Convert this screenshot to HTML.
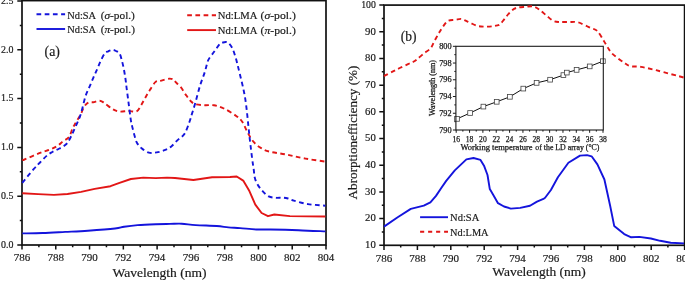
<!DOCTYPE html>
<html><head><meta charset="utf-8"><style>
html,body{margin:0;padding:0;background:#fff;width:685px;height:284px;overflow:hidden}
svg{display:block;will-change:transform}
text{font-family:"Liberation Serif",serif;fill:#1a1a1a;stroke:#1a1a1a;stroke-width:0.18px}
</style></head><body>
<svg width="685" height="284" viewBox="0 0 685 284">

<rect x="22.0" y="0.6" width="304.0" height="244.4" fill="none" stroke="#111" stroke-width="1.7"/>
<path d="M22.00,245.0 V249.6 M38.89,245.0 V247.2 M55.78,245.0 V249.6 M72.67,245.0 V247.2 M89.56,245.0 V249.6 M106.44,245.0 V247.2 M123.33,245.0 V249.6 M140.22,245.0 V247.2 M157.11,245.0 V249.6 M174.00,245.0 V247.2 M190.89,245.0 V249.6 M207.78,245.0 V247.2 M224.67,245.0 V249.6 M241.56,245.0 V247.2 M258.44,245.0 V249.6 M275.33,245.0 V247.2 M292.22,245.0 V249.6 M309.11,245.0 V247.2 M326.00,245.0 V249.6 M22.0,245.00 H17.3 M22.0,220.60 H19.8 M22.0,196.20 H17.3 M22.0,171.80 H19.8 M22.0,147.40 H17.3 M22.0,123.00 H19.8 M22.0,98.60 H17.3 M22.0,74.20 H19.8 M22.0,49.80 H17.3 M22.0,25.40 H19.8 M22.0,1.00 H17.3" stroke="#111" stroke-width="1.5" fill="none"/>
<text x="13.4" y="247.80" font-size="10" text-anchor="end" textLength="12.4" lengthAdjust="spacingAndGlyphs">0.0</text>
<text x="13.4" y="199.00" font-size="10" text-anchor="end" textLength="12.4" lengthAdjust="spacingAndGlyphs">0.5</text>
<text x="13.4" y="150.20" font-size="10" text-anchor="end" textLength="12.4" lengthAdjust="spacingAndGlyphs">1.0</text>
<text x="13.4" y="101.40" font-size="10" text-anchor="end" textLength="12.4" lengthAdjust="spacingAndGlyphs">1.5</text>
<text x="13.4" y="52.60" font-size="10" text-anchor="end" textLength="12.4" lengthAdjust="spacingAndGlyphs">2.0</text>
<text x="13.4" y="3.80" font-size="10" text-anchor="end" textLength="12.4" lengthAdjust="spacingAndGlyphs">2.5</text>
<text x="22.00" y="261.2" font-size="11" text-anchor="middle">786</text>
<text x="55.78" y="261.2" font-size="11" text-anchor="middle">788</text>
<text x="89.56" y="261.2" font-size="11" text-anchor="middle">790</text>
<text x="123.33" y="261.2" font-size="11" text-anchor="middle">792</text>
<text x="157.11" y="261.2" font-size="11" text-anchor="middle">794</text>
<text x="190.89" y="261.2" font-size="11" text-anchor="middle">796</text>
<text x="224.67" y="261.2" font-size="11" text-anchor="middle">798</text>
<text x="258.44" y="261.2" font-size="11" text-anchor="middle">800</text>
<text x="292.22" y="261.2" font-size="11" text-anchor="middle">802</text>
<text x="326.00" y="261.2" font-size="11" text-anchor="middle">804</text>
<text x="112.5" y="277.2" font-size="12.2" textLength="94" lengthAdjust="spacingAndGlyphs">Wavelength (nm)</text>
<text x="44.6" y="56.3" font-size="13.6" textLength="15.4" lengthAdjust="spacingAndGlyphs">(a)</text>
<path d="M36.5,14.3 H65.1" stroke="#1414dc" stroke-width="1.9" stroke-dasharray="4.7 3.5" fill="none"/>
<path d="M36.5,29.0 H65.1" stroke="#1414dc" stroke-width="1.9" fill="none"/>
<path d="M187.2,15.3 H216" stroke="#e21616" stroke-width="1.9" stroke-dasharray="4.7 3.5" fill="none"/>
<path d="M187.2,30.1 H216" stroke="#e21616" stroke-width="1.9" fill="none"/>
<text x="67.2" y="18.7" font-size="11" textLength="28.9" lengthAdjust="spacingAndGlyphs">Nd:SA</text><text x="100.7" y="18.7" font-size="11" textLength="34.2" lengthAdjust="spacingAndGlyphs">(<tspan font-style="italic">&#963;</tspan>-pol.)</text>
<text x="67.2" y="33.1" font-size="11" textLength="28.9" lengthAdjust="spacingAndGlyphs">Nd:SA</text><text x="100.7" y="33.1" font-size="11" textLength="34.2" lengthAdjust="spacingAndGlyphs">(<tspan font-style="italic">&#960;</tspan>-pol.)</text>
<text x="217.8" y="19.0" font-size="11" textLength="39.5" lengthAdjust="spacingAndGlyphs">Nd:LMA</text><text x="260.6" y="19.0" font-size="11" textLength="35.2" lengthAdjust="spacingAndGlyphs">(<tspan font-style="italic">&#963;</tspan>-pol.)</text>
<text x="217.8" y="33.6" font-size="11" textLength="39.5" lengthAdjust="spacingAndGlyphs">Nd:LMA</text><text x="260.6" y="33.6" font-size="11" textLength="35.2" lengthAdjust="spacingAndGlyphs">(<tspan font-style="italic">&#960;</tspan>-pol.)</text>
<path d="M22.30,193.20 L38.10,194.10 L53.90,194.90 L67.50,194.00 L81.10,191.90 L94.70,188.90 L110.50,186.20 L119.50,182.80 L130.90,179.00 L143.30,177.60 L155.70,178.10 L167.00,177.60 L175.00,178.00 L193.40,180.00 L212.10,177.20 L230.00,177.00 L236.70,176.50 L243.20,180.60 L249.40,191.10 L255.30,204.60 L261.60,213.00 L268.00,216.20 L274.30,214.50 L289.90,216.10 L325.40,216.50" stroke="#e21616" stroke-width="1.9" fill="none" stroke-linejoin="round"/>
<path d="M22.30,233.40 C25.68,233.33 35.45,233.25 42.60,233.00 C49.75,232.75 57.65,232.28 65.20,231.90 C72.75,231.52 79.60,231.27 87.90,230.70 C96.20,230.13 108.97,229.17 115.00,228.50 C121.03,227.83 120.33,227.27 124.10,226.70 C127.87,226.13 132.33,225.52 137.60,225.10 C142.87,224.68 150.30,224.40 155.70,224.20 C161.10,224.00 165.67,223.98 170.00,223.90 C174.33,223.82 177.42,223.50 181.70,223.70 C185.98,223.90 189.87,224.72 195.70,225.10 C201.53,225.48 211.25,225.62 216.70,226.00 C222.15,226.38 224.50,227.05 228.40,227.40 C232.30,227.75 235.43,227.75 240.10,228.10 C244.77,228.45 251.33,229.27 256.40,229.50 C261.47,229.73 263.48,229.38 270.50,229.50 C277.52,229.62 289.35,229.88 298.50,230.20 C307.65,230.52 320.92,231.20 325.40,231.40" stroke="#1414dc" stroke-width="1.9" fill="none" stroke-linejoin="round"/>
<path d="M22.30,160.00 C22.67,159.92 21.55,160.68 24.50,159.50 C27.45,158.32 35.65,154.60 40.00,152.90 C44.35,151.20 47.67,150.48 50.60,149.30 C53.53,148.12 55.55,147.12 57.60,145.80 C59.65,144.48 61.00,142.87 62.90,141.40 C64.80,139.93 67.38,139.20 69.00,137.00 C70.62,134.80 71.50,130.53 72.60,128.20 C73.70,125.87 74.27,125.27 75.60,123.00 C76.93,120.73 79.18,117.30 80.60,114.60 C82.02,111.90 82.82,108.80 84.10,106.80 C85.38,104.80 86.78,103.37 88.30,102.60 C89.82,101.83 91.32,102.50 93.20,102.20 C95.08,101.90 97.83,100.73 99.60,100.80 C101.37,100.87 101.68,101.25 103.80,102.60 C105.92,103.95 109.72,107.42 112.30,108.90 C114.88,110.38 116.60,111.15 119.30,111.50 C122.00,111.85 125.62,111.03 128.50,111.00 C131.38,110.97 134.47,112.32 136.60,111.30 C138.73,110.28 139.85,107.17 141.30,104.90 C142.75,102.63 143.85,100.22 145.30,97.70 C146.75,95.18 148.28,92.43 150.00,89.80 C151.72,87.17 153.87,83.40 155.60,81.90 C157.33,80.40 158.15,81.33 160.40,80.80 C162.65,80.27 166.87,78.87 169.10,78.70 C171.33,78.53 172.62,79.13 173.80,79.80 C174.98,80.47 175.00,81.43 176.20,82.70 C177.40,83.97 179.42,85.42 181.00,87.40 C182.58,89.38 184.12,92.35 185.70,94.60 C187.28,96.85 188.92,99.32 190.50,100.90 C192.08,102.48 192.83,103.38 195.20,104.10 C197.57,104.82 201.57,105.00 204.70,105.20 C207.83,105.40 210.80,104.75 214.00,105.30 C217.20,105.85 220.20,106.73 223.90,108.50 C227.60,110.27 233.12,113.65 236.20,115.90 C239.28,118.15 240.55,119.33 242.40,122.00 C244.25,124.67 245.47,128.62 247.30,131.90 C249.13,135.18 251.15,139.03 253.40,141.70 C255.65,144.37 258.12,146.25 260.80,147.90 C263.48,149.55 265.17,150.48 269.50,151.60 C273.83,152.72 280.80,153.43 286.80,154.60 C292.80,155.77 299.07,157.43 305.50,158.60 C311.93,159.77 322.08,161.10 325.40,161.60" stroke="#e21616" stroke-width="1.9" stroke-dasharray="4.6 3.4" fill="none"/>
<path d="M22.30,182.80 C24.18,180.53 30.65,172.58 33.60,169.20 C36.55,165.82 37.77,164.78 40.00,162.50 C42.23,160.22 44.95,157.25 47.00,155.50 C49.05,153.75 50.23,153.17 52.30,152.00 C54.37,150.83 57.05,149.83 59.40,148.50 C61.75,147.17 64.50,145.92 66.40,144.00 C68.30,142.08 69.33,139.78 70.80,137.00 C72.27,134.22 73.58,130.97 75.20,127.30 C76.82,123.63 78.78,120.17 80.50,115.00 C82.22,109.83 83.97,101.07 85.50,96.30 C87.03,91.53 88.37,89.57 89.70,86.40 C91.03,83.23 92.28,80.10 93.50,77.30 C94.72,74.50 95.82,72.30 97.00,69.60 C98.18,66.90 99.30,63.80 100.60,61.10 C101.90,58.40 103.52,55.03 104.80,53.40 C106.08,51.77 107.02,51.88 108.30,51.30 C109.58,50.72 111.22,49.95 112.50,49.90 C113.78,49.85 114.82,50.38 116.00,51.00 C117.18,51.62 118.60,51.93 119.60,53.60 C120.60,55.27 121.27,58.27 122.00,61.00 C122.73,63.73 123.42,67.00 124.00,70.00 C124.58,73.00 125.07,76.00 125.50,79.00 C125.93,82.00 126.10,84.12 126.60,88.00 C127.10,91.88 127.82,97.10 128.50,102.30 C129.18,107.50 130.10,115.23 130.70,119.20 C131.30,123.17 131.47,123.37 132.10,126.10 C132.73,128.83 133.70,132.83 134.50,135.60 C135.30,138.37 135.72,140.58 136.90,142.70 C138.08,144.82 139.62,146.63 141.60,148.30 C143.58,149.97 146.28,152.02 148.80,152.70 C151.32,153.38 154.07,152.82 156.70,152.40 C159.33,151.98 162.22,151.15 164.60,150.20 C166.98,149.25 168.88,148.33 171.00,146.70 C173.12,145.07 175.07,142.52 177.30,140.40 C179.53,138.28 182.38,137.07 184.40,134.00 C186.42,130.93 188.13,125.40 189.40,122.00 C190.67,118.60 191.03,116.72 192.00,113.60 C192.97,110.48 193.87,107.93 195.20,103.30 C196.53,98.67 198.42,90.95 200.00,85.80 C201.58,80.65 203.65,75.60 204.70,72.40 C205.75,69.20 205.67,68.73 206.30,66.60 C206.93,64.47 207.20,62.07 208.50,59.60 C209.80,57.13 212.23,54.38 214.10,51.80 C215.97,49.22 218.22,45.65 219.70,44.10 C221.18,42.55 221.93,42.85 223.00,42.50 C224.07,42.15 225.12,41.85 226.10,42.00 C227.08,42.15 227.85,42.35 228.90,43.40 C229.95,44.45 231.35,46.18 232.40,48.30 C233.45,50.42 234.38,53.52 235.20,56.10 C236.02,58.68 236.72,61.58 237.30,63.80 C237.88,66.02 237.65,65.03 238.70,69.40 C239.75,73.77 242.37,84.10 243.60,90.00 C244.83,95.90 245.28,98.63 246.10,104.80 C246.92,110.97 247.88,121.25 248.50,127.00 C249.12,132.75 249.18,133.97 249.80,139.30 C250.42,144.63 251.53,153.88 252.20,159.00 C252.87,164.12 253.40,167.00 253.80,170.00 C254.20,173.00 254.02,174.65 254.60,177.00 C255.18,179.35 255.97,181.75 257.30,184.10 C258.63,186.45 260.70,189.05 262.60,191.10 C264.50,193.15 266.50,195.28 268.70,196.40 C270.90,197.52 273.45,197.60 275.80,197.80 C278.15,198.00 280.75,197.48 282.80,197.60 C284.85,197.72 286.27,198.00 288.10,198.50 C289.93,199.00 290.50,199.67 293.80,200.60 C297.10,201.53 302.63,203.25 307.90,204.10 C313.17,204.95 322.48,205.43 325.40,205.70" stroke="#1414dc" stroke-width="1.9" stroke-dasharray="4.6 3.4" fill="none"/>
<rect x="384.0" y="5.09" width="300.60" height="240.21" fill="none" stroke="#111" stroke-width="1.7"/>
<path d="M384.00,245.3 V249.9 M400.70,245.3 V247.5 M417.40,245.3 V249.9 M434.10,245.3 V247.5 M450.80,245.3 V249.9 M467.50,245.3 V247.5 M484.20,245.3 V249.9 M500.90,245.3 V247.5 M517.60,245.3 V249.9 M534.30,245.3 V247.5 M551.00,245.3 V249.9 M567.70,245.3 V247.5 M584.40,245.3 V249.9 M601.10,245.3 V247.5 M617.80,245.3 V249.9 M634.50,245.3 V247.5 M651.20,245.3 V249.9 M667.90,245.3 V247.5 M684.60,245.3 V249.9 M384.0,245.30 H379.3 M384.0,231.96 H381.8 M384.0,218.61 H379.3 M384.0,205.27 H381.8 M384.0,191.92 H379.3 M384.0,178.58 H381.8 M384.0,165.23 H379.3 M384.0,151.88 H381.8 M384.0,138.54 H379.3 M384.0,125.20 H381.8 M384.0,111.85 H379.3 M384.0,98.50 H381.8 M384.0,85.16 H379.3 M384.0,71.81 H381.8 M384.0,58.47 H379.3 M384.0,45.12 H381.8 M384.0,31.78 H379.3 M384.0,18.44 H381.8 M384.0,5.09 H379.3" stroke="#111" stroke-width="1.5" fill="none"/>
<text x="375.8" y="248.10" font-size="10" text-anchor="end" textLength="10.7" lengthAdjust="spacingAndGlyphs">10</text>
<text x="375.8" y="221.41" font-size="10" text-anchor="end" textLength="10.7" lengthAdjust="spacingAndGlyphs">20</text>
<text x="375.8" y="194.72" font-size="10" text-anchor="end" textLength="10.7" lengthAdjust="spacingAndGlyphs">30</text>
<text x="375.8" y="168.03" font-size="10" text-anchor="end" textLength="10.7" lengthAdjust="spacingAndGlyphs">40</text>
<text x="375.8" y="141.34" font-size="10" text-anchor="end" textLength="10.7" lengthAdjust="spacingAndGlyphs">50</text>
<text x="375.8" y="114.65" font-size="10" text-anchor="end" textLength="10.7" lengthAdjust="spacingAndGlyphs">60</text>
<text x="375.8" y="87.96" font-size="10" text-anchor="end" textLength="10.7" lengthAdjust="spacingAndGlyphs">70</text>
<text x="375.8" y="61.27" font-size="10" text-anchor="end" textLength="10.7" lengthAdjust="spacingAndGlyphs">80</text>
<text x="375.8" y="34.58" font-size="10" text-anchor="end" textLength="10.7" lengthAdjust="spacingAndGlyphs">90</text>
<text x="375.8" y="7.89" font-size="10" text-anchor="end" textLength="14.6" lengthAdjust="spacingAndGlyphs">100</text>
<text x="384.00" y="261.8" font-size="11" text-anchor="middle">786</text>
<text x="417.40" y="261.8" font-size="11" text-anchor="middle">788</text>
<text x="450.80" y="261.8" font-size="11" text-anchor="middle">790</text>
<text x="484.20" y="261.8" font-size="11" text-anchor="middle">792</text>
<text x="517.60" y="261.8" font-size="11" text-anchor="middle">794</text>
<text x="551.00" y="261.8" font-size="11" text-anchor="middle">796</text>
<text x="584.40" y="261.8" font-size="11" text-anchor="middle">798</text>
<text x="617.80" y="261.8" font-size="11" text-anchor="middle">800</text>
<text x="651.20" y="261.8" font-size="11" text-anchor="middle">802</text>
<text x="684.60" y="261.8" font-size="11" text-anchor="middle">804</text>
<text x="492.3" y="276.3" font-size="12.2" textLength="93.5" lengthAdjust="spacingAndGlyphs">Wavelength (nm)</text>
<text x="400.8" y="41.2" font-size="13.6" textLength="15.8" lengthAdjust="spacingAndGlyphs">(b)</text>
<text transform="translate(357.3,199.4) rotate(-90)" x="0" y="0" font-size="12" textLength="133.8" lengthAdjust="spacingAndGlyphs">Abrorptionefficiency (%)</text>
<path d="M420.1,217.2 H448" stroke="#1414dc" stroke-width="1.9" fill="none"/>
<path d="M420.1,231.7 H448" stroke="#e21616" stroke-width="1.9" stroke-dasharray="4.1 3.9" fill="none"/>
<text x="450.1" y="221.3" font-size="10.8" textLength="29.2" lengthAdjust="spacingAndGlyphs">Nd:SA</text>
<text x="450.1" y="235.8" font-size="10.8" textLength="38.5" lengthAdjust="spacingAndGlyphs">Nd:LMA</text>
<path d="M384.00,226.60 L397.70,217.30 L410.80,208.90 L423.80,205.70 L430.40,202.40 L436.00,195.90 L441.60,187.50 L446.20,180.90 L454.80,170.40 L466.40,159.40 L473.50,158.00 L480.50,159.90 L484.00,165.70 L487.50,175.00 L489.80,189.10 L493.30,195.00 L498.00,203.20 L504.00,206.50 L510.80,208.60 L520.20,207.90 L530.00,205.80 L537.00,201.60 L544.00,198.60 L545.10,197.80 L550.90,190.00 L557.90,177.20 L568.40,162.80 L580.00,155.60 L587.00,155.10 L591.60,156.30 L597.40,164.40 L604.40,179.50 L610.20,206.00 L614.20,225.90 L624.20,234.10 L631.20,237.30 L639.30,236.90 L650.90,238.50 L660.20,240.80 L670.70,242.70 L684.00,243.40" stroke="#1414dc" stroke-width="1.9" fill="none" stroke-linejoin="round"/>
<path d="M384.00,76.20 C384.37,75.98 384.70,75.70 386.20,74.90 C387.70,74.10 390.75,72.55 393.00,71.40 C395.25,70.25 397.20,69.20 399.70,68.00 C402.20,66.80 405.78,65.20 408.00,64.20 C410.22,63.20 411.52,62.80 413.00,62.00 C414.48,61.20 415.15,60.77 416.90,59.40 C418.65,58.03 421.23,55.65 423.50,53.80 C425.77,51.95 428.72,50.35 430.50,48.30 C432.28,46.25 432.97,43.75 434.20,41.50 C435.43,39.25 436.85,36.63 437.90,34.80 C438.95,32.97 439.63,31.90 440.50,30.50 C441.37,29.10 441.85,28.02 443.10,26.40 C444.35,24.78 446.02,21.88 448.00,20.80 C449.98,19.72 452.85,20.22 455.00,19.90 C457.15,19.58 459.33,18.87 460.90,18.90 C462.47,18.93 462.85,19.45 464.40,20.10 C465.95,20.75 468.07,21.83 470.20,22.80 C472.33,23.77 474.85,25.27 477.20,25.90 C479.55,26.53 481.77,26.53 484.30,26.60 C486.83,26.67 490.07,26.55 492.40,26.30 C494.73,26.05 497.03,25.40 498.30,25.10 C499.57,24.80 498.93,25.57 500.00,24.50 C501.07,23.43 502.95,20.83 504.70,18.70 C506.45,16.57 508.55,13.50 510.50,11.70 C512.45,9.90 513.87,8.72 516.40,7.90 C518.93,7.08 522.88,7.05 525.70,6.80 C528.52,6.55 530.97,5.88 533.30,6.40 C535.63,6.92 537.47,8.33 539.70,9.90 C541.93,11.47 544.45,13.98 546.70,15.80 C548.95,17.62 551.05,19.77 553.20,20.80 C555.35,21.83 556.98,21.80 559.60,22.00 C562.22,22.20 565.78,21.93 568.90,22.00 C572.02,22.07 574.70,21.42 578.30,22.40 C581.90,23.38 587.35,26.48 590.50,27.90 C593.65,29.32 595.00,28.77 597.20,30.90 C599.40,33.03 601.98,38.02 603.70,40.70 C605.42,43.38 606.22,44.98 607.50,47.00 C608.78,49.02 609.67,50.93 611.40,52.80 C613.13,54.67 615.53,56.38 617.90,58.20 C620.27,60.02 623.42,62.35 625.60,63.70 C627.78,65.05 628.45,65.77 631.00,66.30 C633.55,66.83 636.72,66.25 640.90,66.90 C645.08,67.55 648.92,68.42 656.10,70.20 C663.28,71.98 679.35,76.37 684.00,77.60" stroke="#e21616" stroke-width="1.9" stroke-dasharray="4.6 3.4" fill="none"/>
<rect x="455.9" y="46.3" width="147.39999999999998" height="83.7" fill="#fff" stroke="none"/>
<path d="M456.20,130.0 V132.8 M462.87,130.0 V131.6 M469.55,130.0 V132.8 M476.22,130.0 V131.6 M482.89,130.0 V132.8 M489.56,130.0 V131.6 M496.24,130.0 V132.8 M502.91,130.0 V131.6 M509.58,130.0 V132.8 M516.25,130.0 V131.6 M522.93,130.0 V132.8 M529.60,130.0 V131.6 M536.27,130.0 V132.8 M542.95,130.0 V131.6 M549.62,130.0 V132.8 M556.29,130.0 V131.6 M562.96,130.0 V132.8 M569.64,130.0 V131.6 M576.31,130.0 V132.8 M582.98,130.0 V131.6 M589.65,130.0 V132.8 M596.33,130.0 V131.6 M603.00,130.0 V132.8 M455.9,130.00 H452.9 M455.9,121.63 H454.29999999999995 M455.9,113.26 H452.9 M455.9,104.89 H454.29999999999995 M455.9,96.52 H452.9 M455.9,88.15 H454.29999999999995 M455.9,79.78 H452.9 M455.9,71.41 H454.29999999999995 M455.9,63.04 H452.9 M455.9,54.67 H454.29999999999995 M455.9,46.30 H452.9" stroke="#1a1a1a" stroke-width="1" fill="none"/>
<text x="451.6" y="132.60" font-size="7.8" text-anchor="end" textLength="12.4" lengthAdjust="spacingAndGlyphs" style="stroke-width:0.25px">790</text>
<text x="451.6" y="115.86" font-size="7.8" text-anchor="end" textLength="12.4" lengthAdjust="spacingAndGlyphs" style="stroke-width:0.25px">792</text>
<text x="451.6" y="99.12" font-size="7.8" text-anchor="end" textLength="12.4" lengthAdjust="spacingAndGlyphs" style="stroke-width:0.25px">794</text>
<text x="451.6" y="82.38" font-size="7.8" text-anchor="end" textLength="12.4" lengthAdjust="spacingAndGlyphs" style="stroke-width:0.25px">796</text>
<text x="451.6" y="65.64" font-size="7.8" text-anchor="end" textLength="12.4" lengthAdjust="spacingAndGlyphs" style="stroke-width:0.25px">798</text>
<text x="451.6" y="48.90" font-size="7.8" text-anchor="end" textLength="12.4" lengthAdjust="spacingAndGlyphs" style="stroke-width:0.25px">800</text>
<text x="456.20" y="141.6" font-size="7.8" text-anchor="middle" textLength="7.6" lengthAdjust="spacingAndGlyphs" style="stroke-width:0.25px">16</text>
<text x="469.55" y="141.6" font-size="7.8" text-anchor="middle" textLength="7.6" lengthAdjust="spacingAndGlyphs" style="stroke-width:0.25px">18</text>
<text x="482.89" y="141.6" font-size="7.8" text-anchor="middle" textLength="7.6" lengthAdjust="spacingAndGlyphs" style="stroke-width:0.25px">20</text>
<text x="496.24" y="141.6" font-size="7.8" text-anchor="middle" textLength="7.6" lengthAdjust="spacingAndGlyphs" style="stroke-width:0.25px">22</text>
<text x="509.58" y="141.6" font-size="7.8" text-anchor="middle" textLength="7.6" lengthAdjust="spacingAndGlyphs" style="stroke-width:0.25px">24</text>
<text x="522.93" y="141.6" font-size="7.8" text-anchor="middle" textLength="7.6" lengthAdjust="spacingAndGlyphs" style="stroke-width:0.25px">26</text>
<text x="536.27" y="141.6" font-size="7.8" text-anchor="middle" textLength="7.6" lengthAdjust="spacingAndGlyphs" style="stroke-width:0.25px">28</text>
<text x="549.62" y="141.6" font-size="7.8" text-anchor="middle" textLength="7.6" lengthAdjust="spacingAndGlyphs" style="stroke-width:0.25px">30</text>
<text x="562.96" y="141.6" font-size="7.8" text-anchor="middle" textLength="7.6" lengthAdjust="spacingAndGlyphs" style="stroke-width:0.25px">32</text>
<text x="576.31" y="141.6" font-size="7.8" text-anchor="middle" textLength="7.6" lengthAdjust="spacingAndGlyphs" style="stroke-width:0.25px">34</text>
<text x="589.65" y="141.6" font-size="7.8" text-anchor="middle" textLength="7.6" lengthAdjust="spacingAndGlyphs" style="stroke-width:0.25px">36</text>
<text x="603.00" y="141.6" font-size="7.8" text-anchor="middle" textLength="7.6" lengthAdjust="spacingAndGlyphs" style="stroke-width:0.25px">38</text>
<text x="460.4" y="149.8" font-size="7.7" textLength="72.2" lengthAdjust="spacingAndGlyphs" style="stroke-width:0.25px">Working temperature</text>
<text x="535.3" y="149.8" font-size="7.7" textLength="64.1" lengthAdjust="spacingAndGlyphs" style="stroke-width:0.25px">of the LD array (&#176;C)</text>
<text transform="translate(434.8,116) rotate(-90)" font-size="7.9" textLength="56" lengthAdjust="spacingAndGlyphs" style="stroke-width:0.25px">Wavelength (nm)</text>
<path d="M457.00,118.90 L470.10,113.00 L483.40,106.60 L496.70,101.80 L509.90,96.80 L523.30,88.60 L536.60,82.90 L550.10,79.70 L563.40,75.10 L566.80,72.60 L576.60,69.90 L589.70,66.40 L602.90,61.20" stroke="#111" stroke-width="1" fill="none"/>
<rect x="454.65" y="116.55" width="4.7" height="4.7" fill="#fff" stroke="#444" stroke-width="0.8"/>
<rect x="467.75" y="110.65" width="4.7" height="4.7" fill="#fff" stroke="#444" stroke-width="0.8"/>
<rect x="481.05" y="104.25" width="4.7" height="4.7" fill="#fff" stroke="#444" stroke-width="0.8"/>
<rect x="494.35" y="99.45" width="4.7" height="4.7" fill="#fff" stroke="#444" stroke-width="0.8"/>
<rect x="507.55" y="94.45" width="4.7" height="4.7" fill="#fff" stroke="#444" stroke-width="0.8"/>
<rect x="520.95" y="86.25" width="4.7" height="4.7" fill="#fff" stroke="#444" stroke-width="0.8"/>
<rect x="534.25" y="80.55" width="4.7" height="4.7" fill="#fff" stroke="#444" stroke-width="0.8"/>
<rect x="547.75" y="77.35" width="4.7" height="4.7" fill="#fff" stroke="#444" stroke-width="0.8"/>
<rect x="561.05" y="72.75" width="4.7" height="4.7" fill="#fff" stroke="#444" stroke-width="0.8"/>
<rect x="564.45" y="70.25" width="4.7" height="4.7" fill="#fff" stroke="#444" stroke-width="0.8"/>
<rect x="574.25" y="67.55" width="4.7" height="4.7" fill="#fff" stroke="#444" stroke-width="0.8"/>
<rect x="587.35" y="64.05" width="4.7" height="4.7" fill="#fff" stroke="#444" stroke-width="0.8"/>
<rect x="600.55" y="58.85" width="4.7" height="4.7" fill="#fff" stroke="#444" stroke-width="0.8"/>
<rect x="455.9" y="46.3" width="147.39999999999998" height="83.7" fill="none" stroke="#1a1a1a" stroke-width="1.1"/>
</svg>
</body></html>
